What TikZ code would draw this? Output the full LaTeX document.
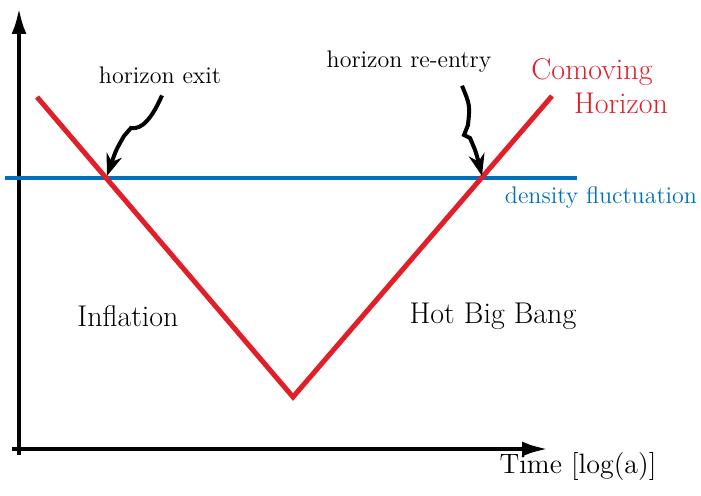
\documentclass[tikz,border=0pt]{standalone}
\usepackage{tikz}
\usetikzlibrary{arrows.meta}

\definecolor{horizred}{RGB}{226,30,40}
\definecolor{flucblue}{RGB}{0,112,184}

\begin{document}
\begin{tikzpicture}[x=0.5pt, y=-0.5pt, line width=2pt]
  \tikzstyle{axis}=[line width=2pt, -{Latex[length=13pt,width=7.5pt]}]
  \tikzstyle{note}=[font=\fontsize{12}{14}\selectfont, inner sep=1pt]
  \tikzstyle{era}=[font=\fontsize{15}{18}\selectfont, inner sep=1pt]
  \tikzstyle{squiggle}=[line width=2pt, -{Stealth[length=11pt,width=8pt]}]

  \useasboundingbox (0,0) rectangle (701,496);

  % axes
  \coordinate (xstart) at (12,449);
  \coordinate (xend)   at (548,449);
  \coordinate (ystart) at (19,455);
  \coordinate (yend)   at (19,8);
  \draw[axis] (xstart) -- (xend);
  \draw[axis] (ystart) -- (yend);

  % comoving horizon and fluctuation scale
  \coordinate (hleft)  at (37,97);
  \coordinate (hmin)   at (293,397);
  \coordinate (hright) at (552,96);
  \coordinate (fleft)  at (5,178);
  \coordinate (fright) at (577,178);
  \coordinate (exit)   at (107,176);
  \coordinate (entry)  at (482,176);

  \draw[flucblue] (fleft) -- (fright);
  \draw[horizred, line width=2.5pt, line join=miter] (hleft) -- (hmin) -- (hright);

  % labels
  \node[note] (exitlbl)  at (160,75) {horizon exit};
  \node[note] (entrylbl) at (409,62) {horizon re-entry};
  \node[era, text=horizred] (comov) at (592,72) {Comoving};
  \node[era, text=horizred] (horiz) at (621,103) {Horizon};
  \node[note, text=flucblue] (fluc) at (601,198) {density fluctuation};
  \node[era] (infl) at (128,316) {Inflation};
  \node[era] (hbb)  at (493,316) {Hot Big Bang};
  \node[era, font=\fontsize{14}{17}\selectfont] (time) at (578,467) {Time [log(a)]};

  % arrows to the crossings
  \draw[squiggle] (exitlbl.south) ++(2,8) .. controls (152,118) and (142,130) .. (131,128)
    -- (124,136) .. controls (116,150) .. (exit);
  \draw[squiggle] (entrylbl.south) ++(53,9) .. controls (470,105) .. (468,125)
    -- (464,135) -- (470,138) .. controls (476,152) .. (entry);
\end{tikzpicture}
\end{document}
